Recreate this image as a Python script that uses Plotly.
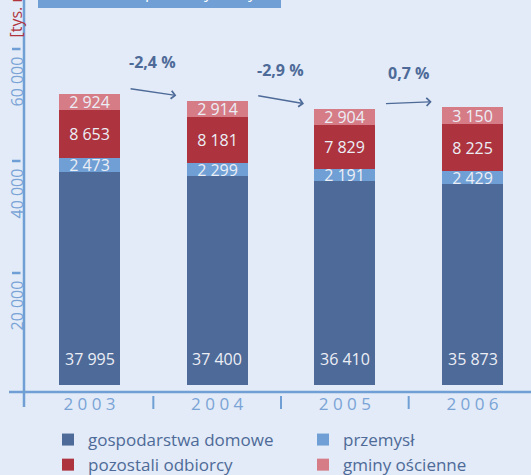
import plotly.graph_objects as go

# ---- data ----
years = ["2003", "2004", "2005", "2006"]
gospodarstwa_domowe = [37995, 37400, 36410, 35873]
przemysl = [2473, 2299, 2191, 2429]
pozostali_odbiorcy = [8653, 8181, 7829, 8225]
gminy_oscienne = [2924, 2914, 2904, 3150]
series_names = ["gospodarstwa domowe", "przemysł", "pozostali odbiorcy", "gminy ościenne"]
y_tick_values = [20000, 40000, 60000]
y_tick_labels = ["20 000", "40 000", "60 000"]
unit_label = "[tys. m³]"
title_text = "Struktura sprzedaży wody"

# ---- style ----
BG = "#e2ebf7"
C_DARK = "#4e6a98"
C_LIGHT = "#6f9fd4"
C_RED = "#ad343e"
C_PINK = "#d67c86"
AXIS_C = "#6f9fd4"
TICK_TXT = "#7aa3d6"
LABEL_C = "#eceef6"
FONT = "Open Sans"
W, H = 531, 475
ML, MB = 24, 83
PW, PH = W - ML, H - MB


def fmt(v):
    return f"{v:,}".replace(",", " ")


def px_x(p):  # pixel offset (from plot left) -> paper
    return p / PW


def px_y(p):  # pixel offset (below plot bottom, positive downward) -> paper
    return -p / PH


xs = list(range(len(years)))
bar_w = 0.478
totals = [a + b + c + d for a, b, c, d in zip(gospodarstwa_domowe, przemysl, pozostali_odbiorcy, gminy_oscienne)]

fig = go.Figure()
series = [gospodarstwa_domowe, przemysl, pozostali_odbiorcy, gminy_oscienne]
colors = [C_DARK, C_LIGHT, C_RED, C_PINK]
legends = ["legend", "legend2", "legend", "legend2"]
for i, (name, vals, col, lg) in enumerate(zip(series_names, series, colors, legends)):
    fig.add_trace(go.Bar(
        x=xs, y=vals, name=name, width=bar_w,
        marker=dict(color=col, line=dict(width=0)),
        text=None if i == 0 else [fmt(v) for v in vals],
        textposition="none" if i == 0 else "inside",
        insidetextanchor="middle",
        constraintext="none",
        textangle=0,
        textfont=dict(family=FONT, size=16, color=LABEL_C),
        legend=lg,
        hoverinfo="skip",
    ))

annotations = []
# bottom-segment labels
for x, v in zip(xs, gospodarstwa_domowe):
    annotations.append(dict(x=x, y=0, xref="x", yref="y", text=fmt(v), showarrow=False,
                            yanchor="bottom", yshift=13,
                            font=dict(family=FONT, size=16, color=LABEL_C)))

# change arrows and percentages
off = 900
for i in range(len(years) - 1):
    pct = (totals[i + 1] / totals[i] - 1) * 100
    txt = f"{pct:.1f}".replace(".", ",") + " %"
    x0, x1 = i + 0.31, i + 0.68
    y0, y1 = totals[i] + off, totals[i + 1] + off
    annotations.append(dict(x=x1, y=y1, ax=x0, ay=y0, xref="x", yref="y", axref="x", ayref="y",
                            text="", showarrow=True, arrowhead=4, arrowsize=1.1, arrowwidth=1.4,
                            arrowcolor=C_DARK, standoff=0, startstandoff=0))
    annotations.append(dict(x=(x0 + x1) / 2, y=(y0 + y1) / 2, xref="x", yref="y", text=f"<b>{txt}</b>",
                            showarrow=False, yshift=30,
                            font=dict(family=FONT, size=16, color=C_DARK)))

# y tick labels (rotated, below each tick)
for v, t in zip(y_tick_values, y_tick_labels):
    annotations.append(dict(x=px_x(16.5 - ML), y=v, xref="paper", yref="y", text=t, showarrow=False,
                            textangle=-90, xanchor="center", yanchor="top", yshift=-6,
                            font=dict(family=FONT, size=16, color=TICK_TXT)))

# unit label
annotations.append(dict(x=px_x(15 - ML), y=1 - 40 / PH, xref="paper", yref="paper", text=unit_label,
                        showarrow=False, textangle=-90, xanchor="center", yanchor="bottom",
                        font=dict(family=FONT, size=16, color="#b0343e")))

# title (mostly cut off at top)
annotations.append(dict(x=px_x((38 + 281) / 2 - ML), y=1 - 5 / PH, xref="paper", yref="paper",
                        text=title_text, showarrow=False, xanchor="center", yanchor="bottom",
                        font=dict(family=FONT, size=16, color="#ffffff")))

shapes = [
    # title box
    dict(type="rect", xref="paper", yref="paper", x0=px_x(38 - ML), x1=px_x(281 - ML),
         y0=1 - 8 / PH, y1=1.05, fillcolor=AXIS_C, line=dict(width=0), layer="below"),
    # vertical axis line
    dict(type="line", xref="paper", yref="paper", x0=0, x1=0, y0=px_y(15), y1=1.05,
         line=dict(color=AXIS_C, width=2.5)),
    # horizontal axis line
    dict(type="line", xref="paper", yref="paper", x0=px_x(9 - ML), x1=1, y0=0, y1=0,
         line=dict(color=AXIS_C, width=2.5)),
]
for v in y_tick_values:
    shapes.append(dict(type="line", xref="paper", yref="y", x0=px_x(12 - ML), x1=px_x(20.5 - ML),
                       y0=v, y1=v, line=dict(color=AXIS_C, width=2.5)))
for i in range(len(years) - 1):
    shapes.append(dict(type="line", xref="x", yref="paper", x0=i + 0.5, x1=i + 0.5,
                       y0=px_y(4), y1=px_y(17), line=dict(color=AXIS_C, width=2)))

fig.update_layout(
    width=W, height=H,
    margin=dict(l=ML, r=0, t=0, b=MB, pad=0, autoexpand=False),
    paper_bgcolor=BG, plot_bgcolor=BG,
    barmode="stack", bargap=0,
    font=dict(family=FONT),
    xaxis=dict(range=[-0.513, 3.458], tickvals=xs, ticktext=[" ".join(y) for y in years],
               showgrid=False, zeroline=False, showline=False, ticks="",
               tickfont=dict(family=FONT, size=17, color=TICK_TXT), fixedrange=True,
               automargin=False),
    yaxis=dict(range=[-1250, 68750], showgrid=False, zeroline=False, showline=False,
               showticklabels=False, ticks="", fixedrange=True, automargin=False),
    showlegend=True,
    legend=dict(orientation="v", x=px_x(48 - ML), y=px_y(30), xanchor="left", yanchor="top",
                traceorder="normal", bgcolor="rgba(0,0,0,0)",
                font=dict(family=FONT, size=17, color=C_DARK)),
    legend2=dict(orientation="v", x=px_x(303 - ML), y=px_y(30), xanchor="left", yanchor="top",
                 traceorder="normal", bgcolor="rgba(0,0,0,0)",
                 font=dict(family=FONT, size=17, color=C_DARK)),
    annotations=annotations,
    shapes=shapes,
)

fig.write_html("out.html", config={"displayModeBar": False},
               post_script="document.body.style.margin='0px';document.body.style.overflow='hidden';")
